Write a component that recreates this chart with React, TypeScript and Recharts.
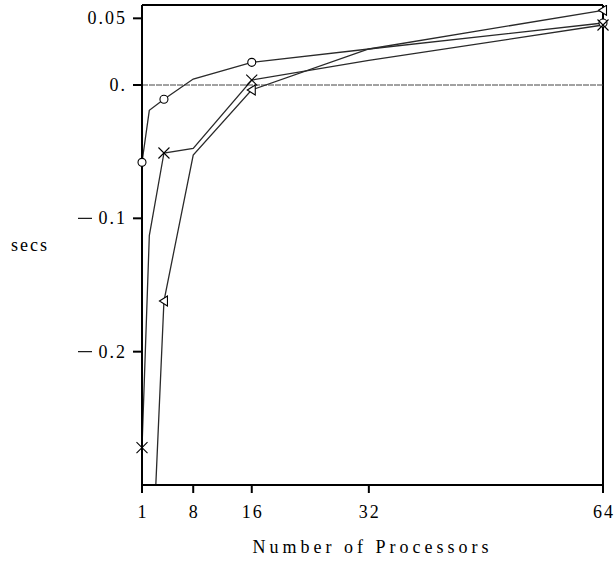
import { LineChart, Line, XAxis, YAxis, ReferenceLine } from "recharts";

const procs = [1, 2, 4, 8, 16, 32, 64];
const circleSecs = [-0.058, -0.019, -0.0107, 0.0045, 0.017, 0.027, 0.0465];
const crossSecs = [-0.272, -0.113, -0.051, -0.0475, 0.0037, 0.0185, 0.045];
const triangleSecs = [null, -0.41, -0.162, -0.0525, -0.0037, 0.027, 0.056];
const markedProcs = [1, 4, 16, 64];
const xTicks = [1, 8, 16, 32, 64];
const yTicks = [-0.2, -0.1, 0, 0.05];
const yLabels: Record<string, string> = { "-0.2": "0.2", "-0.1": "0.1", "0": "0.", "0.05": "0.05" };

const data = procs.map((p, i) => ({
  procs: p,
  circle: circleSecs[i],
  cross: crossSecs[i],
  triangle: triangleSecs[i],
}));

const FONT = "'Liberation Serif', 'Times New Roman', serif";
const LINE = "#2a2a2a";

const makeDot = (kind: "circle" | "cross" | "triangle") => (props: any) => {
  const { cx, cy, payload, index } = props;
  if (cx == null || cy == null || !markedProcs.includes(payload.procs)) {
    return <g key={`${kind}-${index}`} />;
  }
  if (kind === "circle") {
    return <circle key={`${kind}-${index}`} cx={cx} cy={cy} r={4} fill="#fff" stroke="#000" strokeWidth={1.1} />;
  }
  if (kind === "cross") {
    const s = 5.5;
    return (
      <g key={`${kind}-${index}`} stroke="#000" strokeWidth={1.1}>
        <line x1={cx - s} y1={cy - s} x2={cx + s} y2={cy + s} />
        <line x1={cx - s} y1={cy + s} x2={cx + s} y2={cy - s} />
      </g>
    );
  }
  return (
    <polygon
      key={`${kind}-${index}`}
      points={`${cx - 4.5},${cy} ${cx + 3.5},${cy - 5} ${cx + 3.5},${cy + 5}`}
      fill="#fff"
      stroke="#000"
      strokeWidth={1.1}
    />
  );
};

const XTick = (props: any) => {
  const { x, y, payload } = props;
  return (
    <text x={x + 1} y={y + 23} textAnchor="middle" fontFamily={FONT} fontSize={18} letterSpacing={2} fill="#000">
      {payload.value}
    </text>
  );
};

const YTick = (props: any) => {
  const { x, y, payload } = props;
  const neg = payload.value < 0;
  return (
    <g>
      {neg && (
        <line x1={x - 47} y1={y} x2={x - 33} y2={y} stroke="#000" strokeWidth={1.1} />
      )}
      <text x={x + 2} y={y + 6} textAnchor="end" fontFamily={FONT} fontSize={18} letterSpacing={2} fill="#000">
        {yLabels[String(payload.value)]}
      </text>
    </g>
  );
};

const XLabel = (props: any) => {
  const { viewBox } = props;
  const cx = viewBox.x + viewBox.width / 2 - 2;
  return (
    <text
      x={cx - 118}
      y={553}
      textLength={236}
      lengthAdjust="spacing"
      fontFamily={FONT}
      fontSize={18}
      fill="#000"
    >
      Number of Processors
    </text>
  );
};

export default function App() {
  return (
    <div style={{ position: "absolute", left: 0, top: 0, width: 614, height: 563, background: "#fff" }}>
      <LineChart width={614} height={563} data={data} margin={{ top: 5, right: 11, left: 0, bottom: 0 }}>
        <XAxis
          dataKey="procs"
          type="number"
          domain={[1, 64]}
          ticks={xTicks}
          height={78}
          tickSize={8}
          axisLine={{ stroke: "#000", strokeWidth: 2 }}
          tickLine={{ stroke: "#000", strokeWidth: 2 }}
          tick={<XTick />}
          label={<XLabel />}
        />
        <YAxis
          type="number"
          domain={[-0.3, 0.06]}
          allowDataOverflow
          ticks={yTicks}
          width={142}
          tickSize={9}
          tickMargin={8}
          axisLine={{ stroke: "#000", strokeWidth: 2 }}
          tickLine={{ stroke: "#000", strokeWidth: 2 }}
          tick={<YTick />}
          label={{
            value: "secs",
            position: "insideLeft",
            offset: 11,
            style: { fontFamily: FONT, fontSize: 18, fill: "#000", letterSpacing: 2 },
          }}
        />
        <ReferenceLine y={0.06} stroke="#000" strokeWidth={2} />
        <ReferenceLine x={64} stroke="#000" strokeWidth={2} />
        <ReferenceLine y={0} stroke="#444" strokeWidth={1} strokeDasharray="6 1" />
        <Line
          type="linear"
          dataKey="circle"
          stroke={LINE}
          strokeWidth={1.3}
          dot={makeDot("circle")}
          activeDot={false}
          isAnimationActive={false}
        />
        <Line
          type="linear"
          dataKey="cross"
          stroke={LINE}
          strokeWidth={1.3}
          dot={makeDot("cross")}
          activeDot={false}
          isAnimationActive={false}
        />
        <Line
          type="linear"
          dataKey="triangle"
          stroke={LINE}
          strokeWidth={1.3}
          dot={makeDot("triangle")}
          activeDot={false}
          isAnimationActive={false}
        />
      </LineChart>
    </div>
  );
}
